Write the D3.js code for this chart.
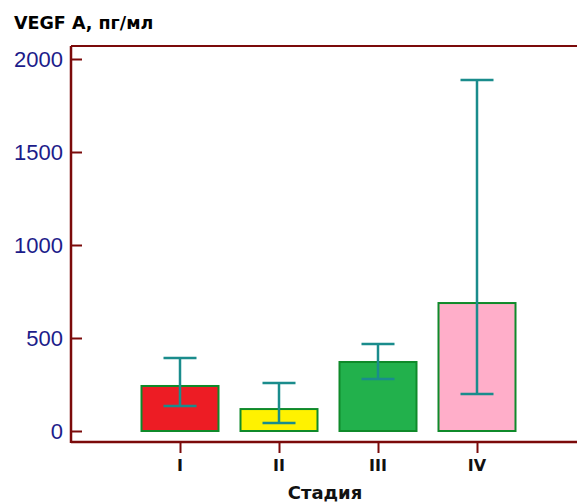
<!DOCTYPE html>
<html>
<head>
<meta charset="utf-8">
<script src="https://cdnjs.cloudflare.com/ajax/libs/d3/7.8.5/d3.min.js"></script>
<style>
  body { margin: 0; background: #fff; }
  svg { display: block; }
</style>
</head>
<body>
<script>
// данные
var stages = ['I', 'II', 'III', 'IV'];
var means  = [242, 118, 371, 688];
var upper  = [392, 258, 468, 1887];
var lower  = [134, 43, 280, 199];
var colors = ['#ed1c24', '#fff200', '#22b14c', '#ffaec9'];
var yTicks = [0, 500, 1000, 1500, 2000];

var width = 577, height = 504;
var axisColor = '#7b0a0a';

var svg = d3.select('body').append('svg')
  .attr('width', width)
  .attr('height', height);

var y = d3.scaleLinear().domain([0, 2000]).range([431, 59]);
var x = d3.scalePoint().domain(stages).range([180, 477]);
var barW = 77, capW = 33;

// рамка
svg.append('line').attr('x1', 71).attr('x2', width).attr('y1', 46).attr('y2', 46)
  .attr('stroke', axisColor).attr('stroke-width', 2);
svg.append('line').attr('x1', 71).attr('x2', width).attr('y1', 442).attr('y2', 442)
  .attr('stroke', axisColor).attr('stroke-width', 2.5);
svg.append('line').attr('x1', 71).attr('x2', 71).attr('y1', 46).attr('y2', 443)
  .attr('stroke', axisColor).attr('stroke-width', 2.5);

// ось Y
var yAxis = svg.append('g').attr('transform', 'translate(71,0)')
  .call(d3.axisRight(y).tickValues(yTicks).tickSize(11).tickFormat(''));
yAxis.select('.domain').remove();
yAxis.selectAll('.tick line').attr('stroke', axisColor).attr('stroke-width', 2);

svg.selectAll('.ylab')
  .data(yTicks)
  .enter()
  .append('text')
  .attr('class', 'ylab')
  .attr('x', 63)
  .attr('y', d => y(d))
  .attr('dy', '0.36em')
  .style('text-anchor', 'end')
  .style('font-family', 'Liberation Sans, Arial, sans-serif')
  .style('font-size', '22px')
  .style('fill', '#1c1c8a')
  .text(d => d);

// ось X
var xAxis = svg.append('g').attr('transform', 'translate(0,442)')
  .call(d3.axisBottom(x).tickSize(11).tickFormat(''));
xAxis.select('.domain').remove();
xAxis.selectAll('.tick line').attr('stroke', axisColor).attr('stroke-width', 2);

svg.selectAll('.xlab')
  .data(stages)
  .enter()
  .append('text')
  .attr('class', 'xlab')
  .attr('x', d => x(d))
  .attr('y', 471)
  .style('text-anchor', 'middle')
  .style('font-family', 'DejaVu Sans, sans-serif')
  .style('font-weight', 'bold')
  .style('font-size', '16px')
  .style('fill', '#111')
  .text(d => d);

// столбцы
svg.selectAll('.bar')
  .data(stages)
  .enter()
  .append('rect')
  .attr('class', 'bar')
  .attr('x', d => x(d) - barW / 2)
  .attr('y', (d, i) => y(means[i]))
  .attr('width', barW)
  .attr('height', (d, i) => y(0) - y(means[i]))
  .style('fill', (d, i) => colors[i])
  .style('stroke', '#0f8a2a')
  .style('stroke-width', 2);

// планки погрешностей
var eb = svg.selectAll('.err')
  .data(stages)
  .enter()
  .append('g')
  .attr('class', 'err')
  .style('stroke', '#1a8c8c')
  .style('stroke-width', 2.5);
eb.append('line')
  .attr('x1', d => x(d)).attr('x2', d => x(d))
  .attr('y1', (d, i) => y(upper[i])).attr('y2', (d, i) => y(lower[i]));
eb.append('line')
  .attr('x1', d => x(d) - capW / 2).attr('x2', d => x(d) + capW / 2)
  .attr('y1', (d, i) => y(upper[i])).attr('y2', (d, i) => y(upper[i]));
eb.append('line')
  .attr('x1', d => x(d) - capW / 2).attr('x2', d => x(d) + capW / 2)
  .attr('y1', (d, i) => y(lower[i])).attr('y2', (d, i) => y(lower[i]));

// подписи
svg.append('text')
  .attr('x', 14).attr('y', 29)
  .style('font-family', 'DejaVu Sans, sans-serif')
  .style('font-weight', 'bold')
  .style('font-size', '17.5px')
  .style('fill', '#000')
  .text('VEGF A, пг/мл');

svg.append('text')
  .attr('x', 325).attr('y', 499)
  .style('text-anchor', 'middle')
  .style('font-family', 'DejaVu Sans, sans-serif')
  .style('font-weight', 'bold')
  .style('font-size', '18px')
  .style('fill', '#111')
  .text('Стадия');
</script>
</body>
</html>
